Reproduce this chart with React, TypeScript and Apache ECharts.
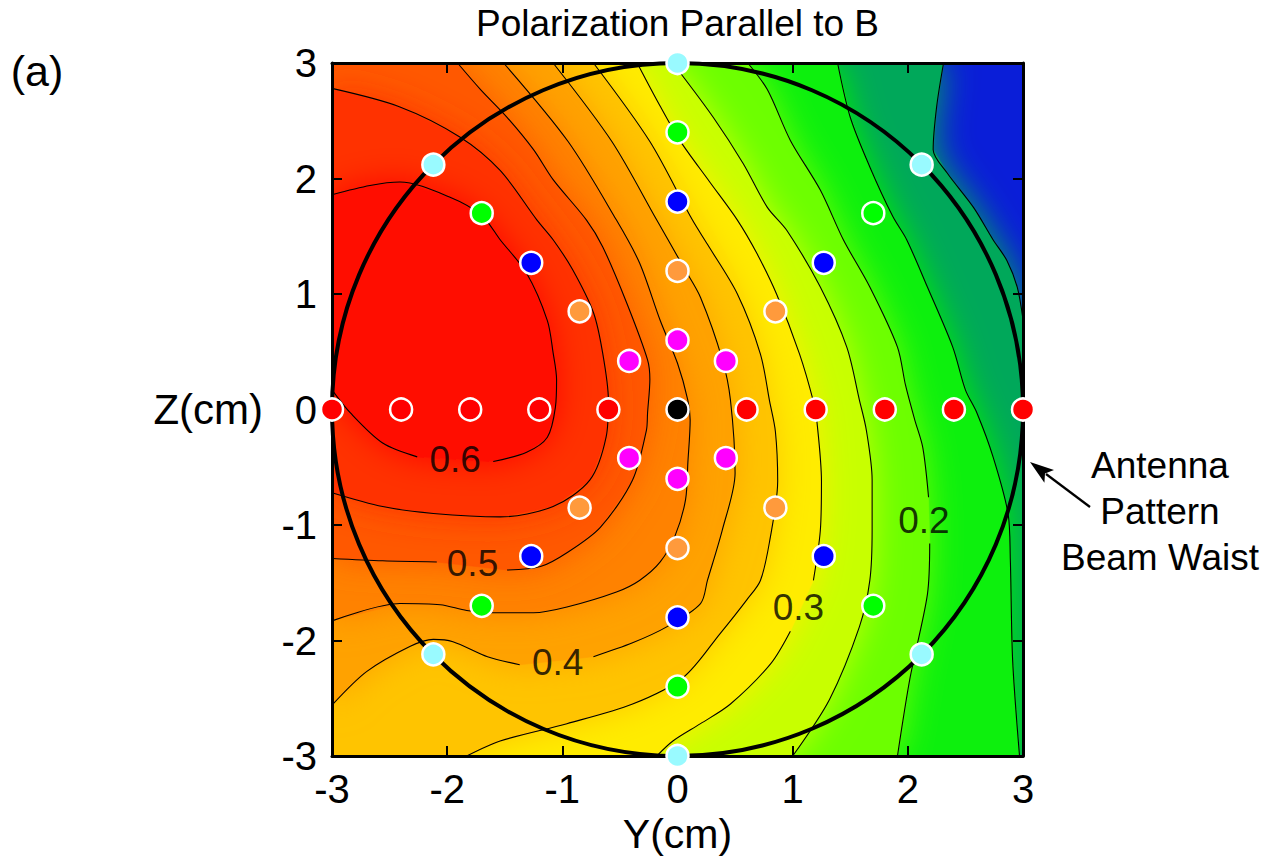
import { useEffect, useRef } from "react";
import * as echarts from "echarts";

const FONT = 'Helvetica, "Liberation Sans", Arial, sans-serif';

const AXIS_MIN = -3;
const AXIS_MAX = 3;

// contour levels and traced contour paths [Y, Z] (null = gap for the inline label)
const contourLevels = [0.1, 0.15, 0.2, 0.25, 0.3, 0.35, 0.4, 0.45, 0.5, 0.55, 0.6];

const c010 = [[2.31, 3], [2.25, 2.62], [2.22, 2.25], [2.34, 2.05], [2.57, 1.75], [2.74, 1.47], [2.86, 1.29], [2.95, 1.06], [3, 0.78]];
const c015 = [[1.39, 3], [1.5, 2.53], [1.67, 2.1], [1.87, 1.67], [1.99, 1.47], [2.17, 1.06], [2.39, 0.54], [2.5, 0.17], [2.6, -0.03], [2.74, -0.41], [2.87, -0.9], [2.89, -1.3], [2.91, -2.17], [2.97, -3]];
const c020 = [[0.61, 3], [0.78, 2.77], [0.98, 2.33], [1.24, 1.9], [1.44, 1.47], [1.67, 1.06], [1.91, 0.54], [1.98, 0.21], [2.06, -0.09], [2.13, -0.33], [2.18, -0.76], null, [2.19, -1.16], [2.17, -1.6], [2.02, -2.32], [1.91, -3]];
const c025 = [[-0.05, 3], [0.02, 2.92], [0.31, 2.53], [0.57, 2.13], [0.78, 1.75], [0.95, 1.55], [1.24, 1.06], [1.47, 0.54], [1.58, 0.08], [1.64, -0.18], [1.69, -0.61], [1.69, -1.04], [1.67, -1.48], [1.58, -1.88], [1.32, -2.51], [1, -3]];
const c030 = [[-0.35, 3], [-0.18, 2.68], [0.02, 2.33], [0.28, 1.97], [0.52, 1.64], [0.69, 1.35], [0.86, 1], [1.06, 0.48], [1.18, 0.07], [1.21, -0.1], [1.25, -0.62], [1.24, -1.05], [1.18, -1.48], null, [0.98, -1.92], [0.81, -2.2], [0.46, -2.55], [0.2, -2.72], [-0.04, -2.87], [-0.18, -3]];
const c035 = [[-0.73, 3], [-0.24, 2.32], [0.13, 1.64], [0.26, 1.43], [0.52, 1], [0.72, 0.48], [0.8, 0.07], [0.85, -0.19], [0.87, -0.62], [0.8, -1.14], [0.72, -1.48], [0.6, -1.65], [0.37, -1.94], [0.05, -2.32], [-0.39, -2.55], [-0.96, -2.72], [-1.54, -2.87], [-1.83, -3]];
const c040 = [[-1.08, 3], [-0.57, 2.32], [-0.18, 1.64], [0.06, 1.22], [0.2, 0.97], [0.39, 0.43], [0.46, 0.08], [0.5, -0.55], [0.39, -1.04], [0.26, -1.48], [0.2, -1.68], [-0.09, -1.88], [-0.39, -2.02], [-0.73, -2.14], null, [-1.37, -2.21], [-1.65, -2.14], [-1.95, -2.01], [-2.12, -1.99], [-2.32, -2.05], [-2.7, -2.27], [-3, -2.56]];
const c045 = [[-1.51, 3], [-0.95, 2.32], [-0.53, 1.64], [-0.33, 1.27], [-0.15, 0.77], [0, 0.4], [0.09, 0.08], [0.11, -0.09], [0.09, -0.46], [0.07, -0.78], [-0.02, -1.09], [-0.15, -1.32], [-0.33, -1.48], [-0.53, -1.58], [-0.96, -1.71], [-1.25, -1.76], [-1.6, -1.76], [-1.83, -1.74], [-2.06, -1.69], [-2.41, -1.68], [-3, -1.83]];
const c050 = [[-1.91, 3], [-1.71, 2.77], [-1.48, 2.53], [-1.25, 2.25], [-1.08, 1.99], [-0.79, 1.64], [-0.65, 1.41], [-0.44, 0.92], [-0.26, 0.43], [-0.24, 0.26], [-0.26, -0.03], [-0.27, -0.18], [-0.39, -0.61], [-0.67, -1.02], [-0.96, -1.24], [-1.19, -1.36], [-1.48, -1.39], null, [-2.09, -1.32], [-2.56, -1.31], [-3, -1.29]];
const c055 = [[-3, 2.78], [-2.41, 2.62], [-1.89, 2.36], [-1.54, 2.07], [-1.22, 1.64], [-1.08, 1.47], [-0.91, 1.21], [-0.73, 0.84], [-0.65, 0.49], [-0.6, 0.08], [-0.62, -0.24], [-0.76, -0.61], [-1.08, -0.84], [-1.54, -0.93], [-2.12, -0.9], [-2.56, -0.84], [-3, -0.72]];
const c060 = [[-3, 1.86], [-2.67, 1.94], [-2.41, 1.97], [-1.98, 1.84], [-1.7, 1.68], [-1.54, 1.47], [-1.31, 1.18], [-1.13, 0.77], [-1.08, 0.49], [-1.05, 0.26], [-1.06, 0.02], [-1.13, -0.24], [-1.31, -0.37], [-1.6, -0.45], null, [-2.26, -0.41], [-2.56, -0.29], [-2.84, -0.03], [-3, 0.17]];

const contours = [c010, c015, c020, c025, c030, c035, c040, c045, c050, c055, c060];

// plot-box corners that close each "value >= level" region
const regionCorners = [
  [[AXIS_MAX, AXIS_MIN], [AXIS_MIN, AXIS_MIN], [AXIS_MIN, AXIS_MAX]],
  [[AXIS_MIN, AXIS_MIN], [AXIS_MIN, AXIS_MAX]],
  [[AXIS_MIN, AXIS_MIN], [AXIS_MIN, AXIS_MAX]],
  [[AXIS_MIN, AXIS_MIN], [AXIS_MIN, AXIS_MAX]],
  [[AXIS_MIN, AXIS_MIN], [AXIS_MIN, AXIS_MAX]],
  [[AXIS_MIN, AXIS_MIN], [AXIS_MIN, AXIS_MAX]],
  [[AXIS_MIN, AXIS_MAX]],
  [[AXIS_MIN, AXIS_MAX]],
  [[AXIS_MIN, AXIS_MAX]],
  [],
  [],
];
const frameCorners = [[AXIS_MIN, AXIS_MAX], [AXIS_MAX, AXIS_MAX], [AXIS_MAX, AXIS_MIN], [AXIS_MIN, AXIS_MIN]];

// band colours: below 0.1, then one per level band
const bandColors = ["#0A1ED8", "#00A85A", "#10F010", "#6CFF00", "#C8FF00", "#FFEC00", "#FFC400", "#FFA200", "#FF8200", "#FF5800", "#FF3000", "#FF0E00"];

const contourLabels = [[-1.93, -0.43, "0.6"], [-1.78, -1.33, "0.5"], [-1.04, -2.19, "0.4"], [1.05, -1.71, "0.3"], [2.14, -0.96, "0.2"]];

// beam waist circle: centre Y, centre Z, radius (cm)
const beamWaist = [[0, 0, 3]];

// measurement points [Y, Z]
const redPts = [[-3, 0], [-2.4, 0], [-1.8, 0], [-1.2, 0], [-0.6, 0], [0.6, 0], [1.2, 0], [1.8, 0], [2.4, 0], [3, 0]];
const blackPts = [[0, 0]];
const magentaPts = [[0, 0.6], [-0.42, 0.42], [0.42, 0.42], [-0.42, -0.42], [0.42, -0.42], [0, -0.6]];
const orangePts = [[0, 1.2], [-0.85, 0.85], [0.85, 0.85], [-0.85, -0.85], [0.85, -0.85], [0, -1.2]];
const bluePts = [[0, 1.8], [-1.27, 1.27], [1.27, 1.27], [-1.27, -1.27], [1.27, -1.27], [0, -1.8]];
const greenPts = [[0, 2.4], [-1.7, 1.7], [1.7, 1.7], [-1.7, -1.7], [1.7, -1.7], [0, -2.4]];
const cyanPts = [[0, 3], [-2.12, 2.12], [2.12, 2.12], [-2.12, -2.12], [2.12, -2.12], [0, -3]];

const pointGroups = [
  { name: "red", color: "#FF0000", data: redPts },
  { name: "black", color: "#000000", data: blackPts },
  { name: "magenta", color: "#FF00FF", data: magentaPts },
  { name: "orange", color: "#FF9A3C", data: orangePts },
  { name: "blue", color: "#0000FF", data: bluePts },
  { name: "green", color: "#00FF00", data: greenPts },
  { name: "cyan", color: "#99FAFF", data: cyanPts },
];

function splitSegments(c: any[]) {
  const segs: any[] = [];
  let cur: any[] = [];
  for (const p of c) {
    if (!p) {
      segs.push(cur);
      cur = [];
    } else cur.push(p);
  }
  segs.push(cur);
  return segs;
}

export default function App() {
  const ref = useRef<HTMLDivElement>(null);

  useEffect(() => {
    if (!ref.current) return;
    const chart = echarts.init(ref.current, null, { renderer: "svg" });

    const axisCommon = {
      type: "value",
      min: AXIS_MIN,
      max: AXIS_MAX,
      interval: 1,
      z: 10,
      splitLine: { show: false },
      axisLine: { show: true, onZero: false, lineStyle: { color: "#000", width: 3 } },
      axisTick: { show: true, inside: true, length: 10, lineStyle: { color: "#000", width: 2 } },
    };

    const bandSeries = {
      type: "custom",
      coordinateSystem: "cartesian2d",
      silent: true,
      z: 1,
      clip: true,
      data: bandColors.map((_, i) => [0, 0, i]),
      renderItem: (_params: any, api: any) => {
        const k = api.value(2);
        const pts = k === 0 ? frameCorners : contours[k - 1].filter(Boolean).concat(regionCorners[k - 1]);
        const style: any = { fill: bandColors[k], stroke: bandColors[k], lineWidth: 0.6 };
        if (k > 0) {
          style.shadowBlur = 34;
          style.shadowColor = bandColors[k];
        }
        return {
          type: "polygon",
          shape: { points: pts.map((p: any) => api.coord(p)) },
          style,
        };
      },
    };

    const lineSeries: any[] = [];
    contours.forEach((c, idx) => {
      splitSegments(c).forEach((seg, j) => {
        lineSeries.push({
          type: "line",
          name: "contour " + contourLevels[idx] + "-" + j,
          data: seg,
          symbol: "none",
          showSymbol: false,
          smooth: 0.3,
          silent: true,
          z: 3,
          lineStyle: { color: "#000", width: 1.1 },
        });
      });
    });

    const labelSeries = {
      type: "scatter",
      silent: true,
      z: 4,
      symbolSize: 1,
      itemStyle: { color: "rgba(0,0,0,0)" },
      data: contourLabels,
      label: {
        show: true,
        position: "inside",
        formatter: (p: any) => p.value[2],
        fontSize: 37,
        fontFamily: FONT,
        color: "#000",
        textBorderWidth: 0,
      },
    };

    const circleSeries = {
      type: "custom",
      coordinateSystem: "cartesian2d",
      silent: true,
      clip: false,
      z: 8,
      data: beamWaist,
      renderItem: (_params: any, api: any) => {
        const c = api.coord([api.value(0), api.value(1)]);
        const s = api.size([api.value(2), api.value(2)], [api.value(0), api.value(1)]);
        return {
          type: "ellipse",
          shape: { cx: c[0], cy: c[1], rx: s[0], ry: s[1] },
          style: { fill: "none", stroke: "#000", lineWidth: 4 },
        };
      },
    };

    const scatterSeries = pointGroups.map((g) => ({
      type: "scatter",
      name: g.name,
      data: g.data,
      symbol: "circle",
      symbolSize: 22,
      clip: false,
      silent: true,
      z: 20,
      itemStyle: { color: g.color, borderColor: "#fff", borderWidth: 2.5, opacity: 1 },
    }));

    const option: any = {
      animation: false,
      backgroundColor: "#fff",
      textStyle: { fontFamily: FONT },
      grid: { left: 332, top: 63, width: 691, height: 693, containLabel: false, outerBoundsMode: "none" },
      xAxis: [
        {
          ...axisCommon,
          position: "bottom",
          name: "Y(cm)",
          nameLocation: "middle",
          nameGap: 50,
          nameTextStyle: { fontSize: 41, color: "#000", fontFamily: FONT },
          axisLabel: { fontSize: 40, color: "#000", margin: 13, fontFamily: FONT },
        },
        { ...axisCommon, position: "top", axisLabel: { show: false } },
      ],
      yAxis: [
        {
          ...axisCommon,
          position: "left",
          name: "Z(cm)",
          nameLocation: "middle",
          nameRotate: 0,
          nameGap: 69,
          nameTextStyle: { fontSize: 42, color: "#000", fontFamily: FONT },
          axisLabel: { fontSize: 40, color: "#000", margin: 15, fontFamily: FONT },
        },
        { ...axisCommon, position: "right", axisLabel: { show: false } },
      ],
      graphic: [
        {
          type: "text",
          x: 677.5,
          y: 23,
          silent: true,
          style: { text: "Polarization Parallel to B", font: "37px " + FONT, fill: "#000", align: "center", verticalAlign: "middle" },
        },
        {
          type: "text",
          x: 37,
          y: 71,
          silent: true,
          style: { text: "(a)", font: "43px " + FONT, fill: "#000", align: "center", verticalAlign: "middle" },
        },
        {
          type: "text",
          x: 1160,
          y: 511,
          silent: true,
          style: {
            text: "Antenna\nPattern\nBeam Waist",
            font: "37px " + FONT,
            lineHeight: 46,
            fill: "#000",
            align: "center",
            verticalAlign: "middle",
          },
        },
        {
          type: "line",
          silent: true,
          shape: { x1: 1090, y1: 507, x2: 1046, y2: 474 },
          style: { stroke: "#000", lineWidth: 2.2 },
        },
        {
          type: "polygon",
          silent: true,
          shape: { points: [[1030, 462], [1054, 470], [1045, 473.5], [1044.4, 482.8]] },
          style: { fill: "#000" },
        },
      ],
      series: [bandSeries, ...lineSeries, labelSeries, circleSeries, ...scatterSeries],
    };

    chart.setOption(option);
    return () => chart.dispose();
  }, []);

  return <div ref={ref} style={{ position: "fixed", left: 0, top: 0, width: 1274, height: 865 }} />;
}
